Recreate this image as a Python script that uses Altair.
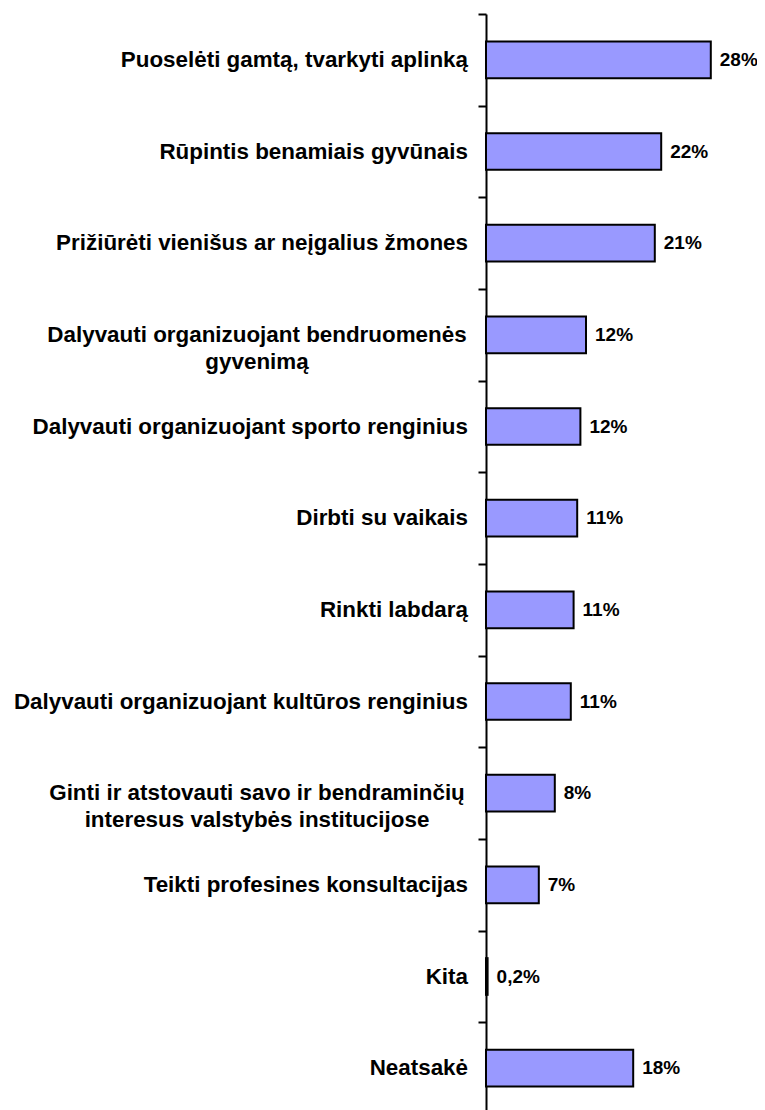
import altair as alt
import pandas as pd

categories = [
    "Puoselėti gamtą, tvarkyti aplinką",
    "Rūpintis benamiais gyvūnais",
    "Prižiūrėti vienišus ar neįgalius žmones",
    "Dalyvauti organizuojant bendruomenės\ngyvenimą",
    "Dalyvauti organizuojant sporto renginius",
    "Dirbti su vaikais",
    "Rinkti labdarą",
    "Dalyvauti organizuojant kultūros renginius",
    "Ginti ir atstovauti savo ir bendraminčių\ninteresus valstybės institucijose",
    "Teikti profesines konsultacijas",
    "Kita",
    "Neatsakė",
]
values = [28.1, 21.9, 21.1, 12.5, 11.8, 11.4, 10.95, 10.6, 8.6, 6.6, 0.2, 18.4]
value_labels = ["28%", "22%", "21%", "12%", "12%", "11%", "11%", "11%", "8%", "7%", "0,2%", "18%"]

df = pd.DataFrame({"cat": categories, "value": values, "label": value_labels})
df["multi"] = df["cat"].str.contains("\n")

FONT = "Liberation Sans"

y = alt.Y(
    "cat:N",
    sort=None,
    scale=alt.Scale(paddingInner=0, paddingOuter=0),
    axis=alt.Axis(
        labels=False, title=None, domain=True, domainColor="black", domainWidth=2,
        ticks=True, tickColor="black", tickWidth=2, tickSize=8, tickBand="extent",
        tickOpacity=1, grid=False,
    ),
)
x = alt.X("value:Q", scale=alt.Scale(domain=[0, 33.875], nice=False, zero=True), axis=None)

base = alt.Chart(df)

bars = base.mark_bar(
    fill="#9999FF", stroke="black", strokeWidth=2, height=alt.RelativeBandSize(0.4)
).encode(x=x, y=y)

vals = base.mark_text(
    align="left", baseline="middle", dx=9, fontSize=19, fontWeight="bold",
    font=FONT, color="black",
).encode(x=x, y=y, text="label:N")

single = base.transform_filter("!datum.multi").mark_text(
    align="right", baseline="middle", dx=-18, fontSize=22.4, fontWeight="bold",
    font=FONT, color="black", lineBreak="\n",
).encode(x=alt.datum(0), y=y, text="cat:N")

multi = base.transform_filter("datum.multi").mark_text(
    align="center", baseline="middle", dx=-229, fontSize=22.4, fontWeight="bold",
    font=FONT, color="black", lineBreak="\n", lineHeight=27,
).encode(x=alt.datum(0), y=y, text="cat:N")

chart = (
    alt.layer(bars, vals, single, multi)
    .properties(
        width=271, height=1100,
        autosize=alt.AutoSizeParams(type="none"),
        padding={"top": 6, "left": 478, "right": 0, "bottom": 0},
    )
    .configure_view(stroke=None)
)

chart.save("out.html", embed_options={"renderer": "svg", "actions": False})
